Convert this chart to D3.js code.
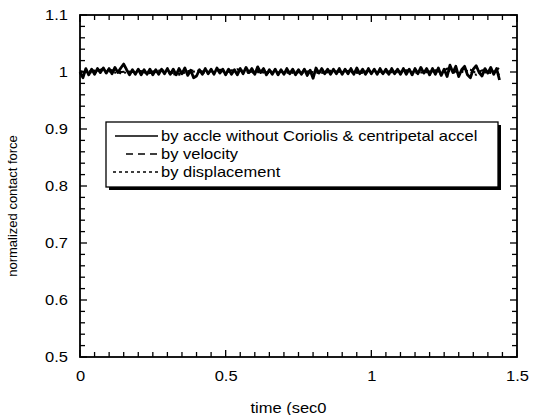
<!DOCTYPE html>
<head>
<meta charset="utf-8">
<style>
body { margin: 0; background: #fff; }
svg { display: block; }
text { font-family: Arial, "Liberation Sans", Helvetica, sans-serif; fill: #000; }
.tick-label { font-size: 15px; }
.axis-title { font-size: 15px; }
.y-title { font-size: 13px; }
.legend-text { font-size: 15px; }
</style>
</head>
<body>
<svg width="540" height="415"></svg>
<script src="https://d3js.org/d3.v7.min.js"></script>
<script>

// sampling interval of each series (sec)
var dtAccel = 0.01,
    dtVel = 0.02,
    dtDisp = 0.02;

// by accle without Coriolis & centripetal accel
var accelVals = [
  1.000, 0.990, 1.006, 0.995, 1.005, 0.996, 1.006, 0.999, 1.007, 0.998,
  1.006, 0.997, 1.008, 0.999, 1.007, 1.014, 1.004, 0.995, 1.004, 0.996,
  1.005, 0.995, 1.004, 0.996, 1.005, 0.995, 1.004, 0.996, 1.005, 0.997,
  1.006, 0.996, 1.005, 0.995, 1.006, 0.997, 1.007, 0.994, 1.003, 0.990,
  0.993, 1.004, 0.996, 1.006, 0.997, 1.005, 0.996, 1.007, 0.998, 1.005,
  0.995, 1.005, 0.996, 1.004, 0.995, 1.006, 0.997, 1.008, 0.999, 1.006,
  0.996, 1.009, 0.999, 1.006, 0.995, 1.004, 0.996, 1.005, 0.995, 1.004,
  0.996, 1.006, 0.997, 1.005, 0.995, 1.004, 0.996, 1.005, 0.994, 1.003,
  0.989, 1.007, 0.998, 1.006, 0.997, 1.005, 0.996, 1.005, 0.997, 1.006,
  0.996, 1.005, 0.997, 1.006, 0.996, 1.007, 0.997, 1.005, 0.996, 1.006,
  0.997, 1.005, 0.996, 1.006, 0.997, 1.005, 0.996, 1.006, 0.997, 1.005,
  0.996, 1.006, 0.996, 1.005, 0.995, 1.006, 0.997, 1.008, 0.998, 1.006,
  0.995, 1.006, 0.996, 1.007, 0.994, 1.005, 0.992, 1.012, 0.999, 1.010,
  0.992, 1.004, 1.010, 0.995, 0.990, 1.005, 1.011, 0.999, 0.993, 1.006,
  0.998, 1.008, 0.996, 1.006, 0.986
];

// by velocity
var velVals = [
  1.002, 0.999, 1.003, 1.002, 1.006, 1.004, 1.002, 1.000, 1.001, 1.000,
  1.002, 1.001, 1.000, 1.002, 1.003, 1.001, 0.998, 0.997, 1.001, 1.002,
  1.003, 1.001, 1.000, 1.002, 1.004, 1.002, 1.003, 1.005, 1.002, 1.000,
  1.001, 1.002, 1.000, 1.001, 0.999, 1.002, 1.000, 1.001, 0.999, 1.001,
  1.002, 1.000, 1.001, 1.002, 1.001, 1.000, 1.002, 1.001, 1.000, 1.001,
  1.002, 1.000, 1.001, 1.001, 1.002, 1.001, 1.003, 1.002, 1.000, 1.002,
  1.001, 1.003, 0.999, 1.006, 1.003, 0.998, 1.006, 1.004, 0.998, 1.003,
  1.002, 1.001, 0.995
];

// by displacement
var dispVals = [
  0.998, 1.001, 0.999, 1.000, 1.003, 1.001, 0.999, 0.998, 0.999, 0.998,
  1.000, 0.999, 0.998, 1.000, 1.001, 0.999, 0.996, 0.995, 0.999, 1.000,
  1.001, 0.999, 0.998, 1.000, 1.002, 1.000, 1.001, 1.002, 1.000, 0.998,
  0.999, 1.000, 0.998, 0.999, 0.997, 1.000, 0.998, 0.999, 0.998, 0.999,
  1.000, 0.998, 0.999, 1.000, 0.999, 0.998, 1.000, 0.999, 0.998, 0.999,
  1.000, 0.998, 0.999, 0.999, 1.000, 0.999, 1.001, 1.000, 0.998, 1.000,
  0.999, 1.001, 0.996, 1.003, 1.000, 0.995, 1.003, 1.001, 0.995, 1.000,
  0.999, 0.998, 1.008
];

var xTicks = [0, 0.5, 1, 1.5],
    yTicks = [0.5, 0.6, 0.7, 0.8, 0.9, 1, 1.1];

var legendLabels = [
  "by accle without Coriolis & centripetal accel",
  "by velocity",
  "by displacement"
];

var svg = d3.select("svg"),
    margin = {top: 15, right: 23, bottom: 58, left: 80},
    width = +svg.attr("width") - margin.left - margin.right,
    height = +svg.attr("height") - margin.top - margin.bottom,
    g = svg.append("g").attr("transform", "translate(" + margin.left + "," + margin.top + ")");

var x = d3.scaleLinear().domain([0, 1.5]).range([0, width]);
var y = d3.scaleLinear().domain([0.5, 1.1]).range([height, 0]);

// the scanned original is a bit wider than the font, stretch horizontal text
function stretch(sel) {
  sel.each(function() {
    var w = this.getComputedTextLength();
    d3.select(this).attr("textLength", w * 1.1).attr("lengthAdjust", "spacingAndGlyphs");
  });
}

function toPoints(vals, dt) {
  return vals.map(function(v, i) { return [i * dt, v]; });
}

var line = d3.line()
    .x(function(d) { return x(d[0]); })
    .y(function(d) { return y(d[1]); });

var series = [
  {pts: toPoints(dispVals, dtDisp), dash: "2,3", w: 2},
  {pts: toPoints(velVals, dtVel), dash: "6,4", w: 2},
  {pts: toPoints(accelVals, dtAccel), dash: null, w: 2.8}
];

g.selectAll(".series")
  .data(series)
  .enter().append("path")
    .attr("class", "series")
    .attr("d", function(d) { return line(d.pts); })
    .attr("fill", "none")
    .attr("stroke", "#000")
    .attr("stroke-width", function(d) { return d.w; })
    .attr("stroke-linejoin", "round")
    .attr("stroke-dasharray", function(d) { return d.dash; });

// inward ticks on all four sides
var xMinor = d3.range(0, 1.5001, 0.05),
    yMinor = d3.range(0.5, 1.1001, 0.02);

function isMajor(v, step) { return Math.abs(v / step - Math.round(v / step)) < 1e-6; }

var tickG = g.append("g").attr("stroke", "#000").attr("stroke-width", 1.3);
xMinor.forEach(function(v) {
  var len = isMajor(v, 0.5) ? 7 : 5;
  tickG.append("line").attr("x1", x(v)).attr("x2", x(v)).attr("y1", height).attr("y2", height - len);
  tickG.append("line").attr("x1", x(v)).attr("x2", x(v)).attr("y1", 0).attr("y2", len);
});
yMinor.forEach(function(v) {
  var len = isMajor(v, 0.1) ? 7 : 5;
  tickG.append("line").attr("y1", y(v)).attr("y2", y(v)).attr("x1", 0).attr("x2", len);
  tickG.append("line").attr("y1", y(v)).attr("y2", y(v)).attr("x1", width).attr("x2", width - len);
});

// frame
g.append("rect")
  .attr("width", width).attr("height", height)
  .attr("fill", "none").attr("stroke", "#000").attr("stroke-width", 1.8);

// tick labels through the axes
var xAxis = g.append("g")
    .attr("transform", "translate(0," + height + ")")
    .call(d3.axisBottom(x).tickValues(xTicks).tickSize(0).tickPadding(13).tickFormat(d3.format("")));
var yAxis = g.append("g")
    .call(d3.axisLeft(y).tickValues(yTicks).tickSize(0).tickPadding(12).tickFormat(d3.format("")));
[xAxis, yAxis].forEach(function(a) {
  a.select(".domain").remove();
  a.attr("font-family", null).attr("font-size", null);
  a.selectAll("text").attr("class", "tick-label").call(stretch);
});

// axis titles
svg.append("text")
  .attr("class", "axis-title")
  .attr("x", margin.left + width / 2 - 10)
  .attr("y", 413)
  .attr("text-anchor", "middle")
  .text("time (sec0")
  .call(stretch);

svg.append("text")
  .attr("class", "y-title")
  .attr("transform", "translate(17," + (margin.top + height / 2 + 20) + ") rotate(-90)")
  .attr("text-anchor", "middle")
  .text("normalized contact force");

// legend with drop shadow
var lg = svg.append("g").attr("transform", "translate(106,122)");
var lw = 392, lh = 65;
lg.append("rect").attr("x", 3).attr("y", 3).attr("width", lw).attr("height", lh).attr("fill", "#000");
lg.append("rect").attr("width", lw).attr("height", lh).attr("fill", "#fff").attr("stroke", "#000").attr("stroke-width", 1.3);

var dashes = [null, "7,5", "3,3"],
    starts = [9, 20, 7];
legendLabels.forEach(function(lbl, i) {
  var yy = 14 + i * 18;
  lg.append("line")
    .attr("x1", starts[i]).attr("x2", 52).attr("y1", yy).attr("y2", yy)
    .attr("stroke", "#000").attr("stroke-width", 1.5)
    .attr("stroke-dasharray", dashes[i]);
  lg.append("text")
    .attr("class", "legend-text")
    .attr("x", 55).attr("y", yy)
    .attr("dy", "0.35em")
    .text(lbl)
    .call(stretch);
});

</script>
</body>
